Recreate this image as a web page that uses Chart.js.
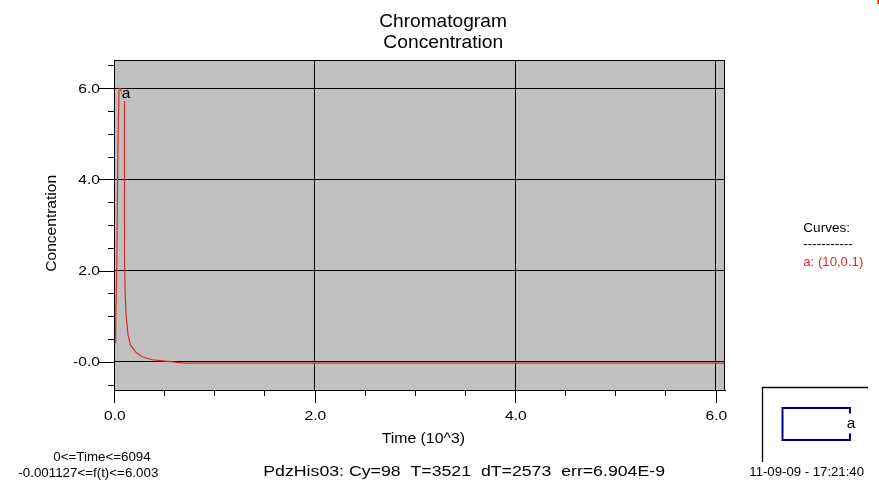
<!DOCTYPE html>
<html>
<head>
<meta charset="utf-8">
<title>Chromatogram</title>
<script src="https://cdn.jsdelivr.net/npm/chart.js@4/dist/chart.umd.min.js"></script>
<style>
  html, body { margin: 0; padding: 0; background: #fff; }
  #wrap { width: 879px; height: 481px; }
</style>
</head>
<body>
<div id="wrap"><canvas id="chromChart" width="879" height="481"></canvas></div>
<script>
// ---------------------------------
// DATA (time in 10^3 units)
// ---------------------------------
const timeValues = [0, 0.002, 0.014, 0.017, 0.027, 0.037, 0.044, 0.05, 0.064, 0.104,
  0.105, 0.11, 0.12, 0.14, 0.164, 0.214, 0.28, 0.38, 0.51, 0.71,
  1.0, 2.0, 3.0, 4.0, 5.0, 6.094];
const concValues = [0.04, 0.37, 0.44, 0.73, 1.98, 4.25, 5.27, 6.0, 6.0, 5.71,
  2.34, 1.61, 1.03, 0.59, 0.37, 0.22, 0.11, 0.044, 0.015, -0.03,
  -0.03, -0.03, -0.03, -0.03, -0.03, -0.03];

const xTickValues = [0, 2, 4, 6];
const xTickLabels = ['0.0', '2.0', '4.0', '6.0'];
const yTickValues = [0, 2, 4, 6];
const yTickLabels = ['-0.0', '2.0', '4.0', '6.0'];
const xMinorTicks = [0, 0.5, 1, 1.5, 2, 2.5, 3, 3.5, 4, 4.5, 5, 5.5, 6];
const yMinorTicks = [-0.5, 0, 0.5, 1, 1.5, 2, 2.5, 3, 3.5, 4, 4.5, 5, 5.5, 6, 6.5];

const titleLines = ['Chromatogram', 'Concentration'];
const curveName = 'a';
const legendLabel = 'a: (10,0.1)';
const rangeLines = ['0<=Time<=6094', '-0.001127<=f(t)<=6.003'];
const statusLine = 'PdzHis03: Cy=98  T=3521  dT=2573  err=6.904E-9';
const stampLine = '11-09-09 - 17:21:40';

const RED = 'rgb(214,45,45)';
const FONT = '"Liberation Sans", Arial, Helvetica, sans-serif';

// draw text, optionally stretched horizontally to a given width
function drawText(ctx, str, x, y, size, align, opt) {
  opt = opt || {};
  ctx.save();
  ctx.font = size + 'px ' + FONT;
  ctx.fillStyle = opt.color || '#000';
  ctx.textBaseline = 'alphabetic';
  ctx.textAlign = 'left';
  const w = ctx.measureText(str).width;
  const sx = opt.width ? opt.width / w : (opt.sx || 1);
  let x0 = x;
  if (align === 'center') x0 = x - w * sx / 2;
  else if (align === 'right') x0 = x - w * sx;
  ctx.translate(x0, y);
  if (opt.rotate) ctx.rotate(opt.rotate);
  ctx.scale(sx, 1);
  ctx.fillText(str, 0, 0);
  ctx.restore();
}

// -------------------------------
// DECORATION PLUGIN
// -------------------------------
const decorPlugin = {
  id: 'decor',
  beforeDraw(chart) {
    const ctx = chart.ctx;
    const a = chart.chartArea;
    ctx.save();
    ctx.fillStyle = '#fff';
    ctx.fillRect(0, 0, chart.width, chart.height);
    ctx.fillStyle = '#c0c0c0';
    ctx.fillRect(a.left, a.top, a.right - a.left, a.bottom - a.top);
    ctx.restore();
  },
  afterDraw(chart) {
    const ctx = chart.ctx;
    const a = chart.chartArea;
    const xs = chart.scales.x;
    const ys = chart.scales.y;

    ctx.save();
    // plot frame
    ctx.strokeStyle = '#000';
    ctx.lineWidth = 1;
    ctx.strokeRect(a.left + 0.5, a.top + 0.5, a.right - a.left - 1, a.bottom - a.top);

    // tick marks
    ctx.beginPath();
    xMinorTicks.forEach(v => {
      const px = Math.round(xs.getPixelForValue(v)) + 0.5;
      const len = (v % 2 === 0) ? 13 : 6;
      ctx.moveTo(px, a.bottom);
      ctx.lineTo(px, a.bottom + len);
    });
    yMinorTicks.forEach(v => {
      const py = Math.round(ys.getPixelForValue(v)) + 0.5;
      const len = (v % 2 === 0) ? 15 : 6;
      ctx.moveTo(a.left, py);
      ctx.lineTo(a.left - len, py);
    });
    ctx.stroke();
    ctx.restore();

    // tick labels
    xTickValues.forEach((v, i) => {
      drawText(ctx, xTickLabels[i], xs.getPixelForValue(v) + 0.8, 419.5, 13, 'center', { sx: 1.2 });
    });
    yTickValues.forEach((v, i) => {
      drawText(ctx, yTickLabels[i], 100, ys.getPixelForValue(v) + 4.7, 13, 'right', { sx: 1.2 });
    });

    // titles
    drawText(ctx, titleLines[0], 443, 26.7, 18.5, 'center', { width: 127.7 });
    drawText(ctx, titleLines[1], 443.3, 48.3, 18.5, 'center', { width: 120 });
    drawText(ctx, 'Time (10^3)', 423.3, 443.3, 14, 'center', { width: 83.3 });
    ctx.save();
    ctx.translate(56, 223.3);
    ctx.rotate(-Math.PI / 2);
    drawText(ctx, 'Concentration', 0, 0, 14, 'center', { width: 96.7 });
    ctx.restore();

    // curve label inside the plot
    ctx.save();
    ctx.fillStyle = '#c0c0c0';
    ctx.fillRect(121.5, 89, 9.5, 12);
    ctx.restore();
    drawText(ctx, curveName, 121.7, 98.3, 15.5, 'left');

    // legend text
    drawText(ctx, 'Curves:', 803.3, 231.7, 13, 'left', { width: 46.7 });
    drawText(ctx, '-----------', 803.3, 248, 13, 'left', { width: 49.4 });
    drawText(ctx, legendLabel, 803.3, 265.5, 13, 'left', { width: 60, color: RED });

    // footer texts
    drawText(ctx, rangeLines[0], 102, 460.7, 13, 'center', { width: 97.3 });
    drawText(ctx, rangeLines[1], 88.3, 476.7, 13, 'center', { width: 140 });
    drawText(ctx, statusLine, 263.3, 475.7, 14, 'left', { width: 401.7 });
    drawText(ctx, stampLine, 749.3, 475.7, 12, 'left', { width: 114.7 });

    // little overview box at bottom right
    ctx.save();
    ctx.strokeStyle = '#000';
    ctx.lineWidth = 1.3;
    ctx.beginPath();
    ctx.moveTo(762.5, 462);
    ctx.lineTo(762.5, 387.5);
    ctx.lineTo(868, 387.5);
    ctx.stroke();
    ctx.strokeStyle = '#000080';
    ctx.lineWidth = 2;
    ctx.beginPath();
    ctx.moveTo(850, 413.5);
    ctx.lineTo(850, 408);
    ctx.lineTo(782.5, 408);
    ctx.lineTo(782.5, 440);
    ctx.lineTo(850, 440);
    ctx.lineTo(850, 433.5);
    ctx.stroke();
    ctx.fillStyle = 'red';
    ctx.fillRect(877.5, 0, 1.5, 4);
    ctx.restore();
    drawText(ctx, curveName, 846.7, 428.3, 15.5, 'left');
  }
};

// -------------------------------
// CHART
// -------------------------------
const points = timeValues.map((t, i) => ({ x: t, y: concValues[i] }));

new Chart(document.getElementById('chromChart').getContext('2d'), {
  type: 'line',
  data: {
    datasets: [{
      label: curveName,
      data: points,
      borderColor: RED,
      borderWidth: 1.2,
      pointRadius: 0,
      tension: 0,
      fill: false
    }]
  },
  options: {
    responsive: false,
    animation: false,
    layout: { padding: { top: 60, right: 154, left: 0, bottom: 0 } },
    plugins: {
      legend: { display: false },
      title: { display: false },
      tooltip: { enabled: false }
    },
    scales: {
      x: {
        type: 'linear',
        min: 0,
        max: 6.094,
        ticks: { display: false, stepSize: 2, includeBounds: false },
        grid: { color: '#000', lineWidth: 1, drawTicks: false },
        border: { display: true, color: '#000' },
        afterFit(s) { s.height = 91; }
      },
      y: {
        type: 'linear',
        min: -0.62,
        max: 6.62,
        ticks: { display: false, stepSize: 2, includeBounds: false },
        grid: { color: '#000', lineWidth: 1, drawTicks: false },
        border: { display: true, color: '#000' },
        afterFit(s) { s.width = 114; }
      }
    }
  },
  plugins: [decorPlugin]
});
</script>
</body>
</html>
